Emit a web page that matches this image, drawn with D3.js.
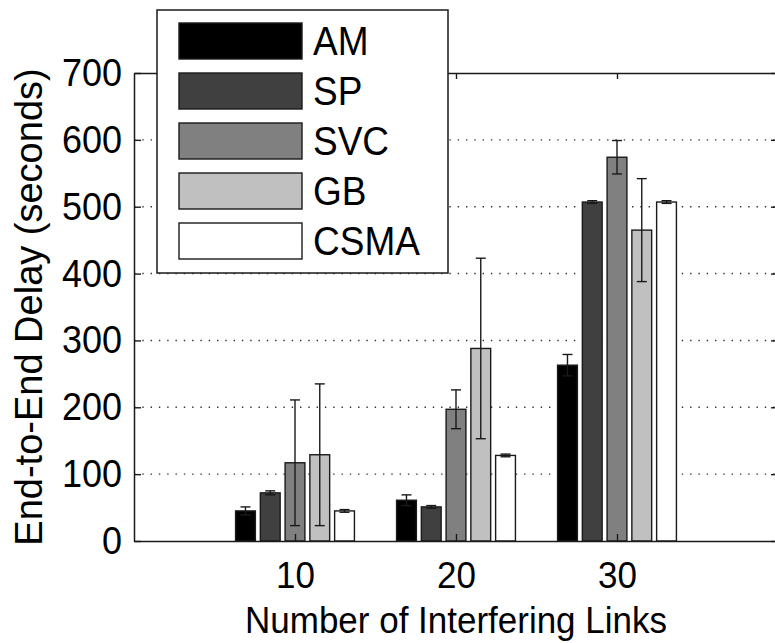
<!DOCTYPE html>
<html>
<head>
<meta charset="utf-8">
<script src="https://cdn.jsdelivr.net/npm/d3@7"></script>
<style>
  html, body { margin: 0; padding: 0; background: #fff; }
  svg { display: block; font-family: "Liberation Sans", Arial, Helvetica, sans-serif; }
</style>
</head>
<body>
<svg id="chart" width="775" height="643"></svg>
<script>
// Interfering link counts on the x axis
const categories = [10, 20, 30];
const seriesNames = ["AM", "SP", "SVC", "GB", "CSMA"];
const seriesColors = ["#000000", "#404040", "#808080", "#c0c0c0", "#ffffff"];

// Mean end-to-end delay (seconds) per scheme
const amValues   = [45, 61, 263];
const spValues   = [72, 51, 507];
const svcValues  = [117, 197, 574];
const gbValues   = [129, 288, 465];
const csmaValues = [45, 128, 507];

// Half-length of the error bars
const amErrors   = [6, 8, 16];
const spErrors   = [3, 2, 2];
const svcErrors  = [94, 29, 25];
const gbErrors   = [106, 135, 77];
const csmaErrors = [2, 2, 2];

const yTicks = [0, 100, 200, 300, 400, 500, 600, 700];
const xTicks = [10, 20, 30];

const seriesValues = [amValues, spValues, svcValues, gbValues, csmaValues];
const seriesErrors = [amErrors, spErrors, svcErrors, gbErrors, csmaErrors];

const svg = d3.select("#chart");
const plot = { left: 134, right: 778, top: 73, bottom: 541 };
const ink = "#1a1a1a";
const stretch = 1.08; // slightly tall lettering

const x = d3.scaleLinear().domain([0, 40]).range([plot.left, plot.right]);
const y = d3.scaleLinear().domain([0, 700]).range([plot.bottom, plot.top]);

// Bars inside a group span ~77% of the category spacing
const groupSpan = 7.69;
const inner = d3.scaleBand()
  .domain(seriesNames)
  .range([-groupSpan / 2, groupSpan / 2])
  .paddingInner(0.2)
  .paddingOuter(0.1);

// Dotted horizontal grid
svg.append("g")
  .selectAll("line")
  .data(yTicks.filter(t => t > 0 && t < 700))
  .join("line")
  .attr("x1", plot.left).attr("x2", plot.right)
  .attr("y1", d => y(d)).attr("y2", d => y(d))
  .attr("stroke", "#333")
  .attr("stroke-width", 1.4)
  .attr("stroke-dasharray", "1.4,6.9");

// Bars
const rows = [];
seriesNames.forEach((name, s) => {
  categories.forEach((c, i) => {
    rows.push({ name, s, c, v: seriesValues[s][i], e: seriesErrors[s][i] });
  });
});

const barW = x(inner.bandwidth()) - x(0);
const cx = d => x(d.c + inner(d.name) + inner.bandwidth() / 2);

svg.append("g")
  .selectAll("rect")
  .data(rows)
  .join("rect")
  .attr("x", d => cx(d) - barW / 2)
  .attr("width", barW)
  .attr("y", d => y(d.v))
  .attr("height", d => y(0) - y(d.v))
  .attr("fill", d => seriesColors[d.s])
  .attr("stroke", ink)
  .attr("stroke-width", 1.4);

// Error bars
const eb = svg.append("g").attr("stroke", ink).attr("stroke-width", 1.4).attr("fill", "none");
const cap = 5;
eb.selectAll("line.v").data(rows).join("line").attr("class", "v")
  .attr("x1", cx).attr("x2", cx)
  .attr("y1", d => y(d.v + d.e)).attr("y2", d => y(d.v - d.e));
eb.selectAll("line.t").data(rows).join("line").attr("class", "t")
  .attr("x1", d => cx(d) - cap).attr("x2", d => cx(d) + cap)
  .attr("y1", d => y(d.v + d.e)).attr("y2", d => y(d.v + d.e));
eb.selectAll("line.b").data(rows).join("line").attr("class", "b")
  .attr("x1", d => cx(d) - cap).attr("x2", d => cx(d) + cap)
  .attr("y1", d => y(d.v - d.e)).attr("y2", d => y(d.v - d.e));

// Axes (ticks point into the plot)
function styleAxis(g, fontSize) {
  g.select(".domain").attr("stroke", ink).attr("stroke-width", 1.5);
  g.selectAll(".tick line").attr("stroke", ink).attr("stroke-width", 1.4);
  g.selectAll(".tick text").attr("fill", "#000").attr("font-size", fontSize + "px")
    .attr("font-family", "'Liberation Sans', Arial, sans-serif")
    .attr("transform", `scale(1,${stretch})`);
}

svg.append("g")
  .attr("transform", `translate(${plot.left},0)`)
  .call(d3.axisLeft(y).tickValues(yTicks).tickSizeInner(-7).tickSizeOuter(0).tickPadding(12))
  .call(g => styleAxis(g, 36));

svg.append("g")
  .attr("transform", `translate(${plot.right},0)`)
  .call(d3.axisRight(y).tickValues(yTicks).tickSizeInner(-7).tickSizeOuter(0).tickFormat(""))
  .call(g => styleAxis(g, 36));

svg.append("g")
  .attr("transform", `translate(0,${plot.bottom})`)
  .call(d3.axisBottom(x).tickValues(xTicks).tickSizeInner(-7).tickSizeOuter(0).tickPadding(18.5))
  .call(g => styleAxis(g, 35));

svg.append("g")
  .attr("transform", `translate(0,${plot.top})`)
  .call(d3.axisTop(x).tickValues(xTicks).tickSizeInner(-6).tickSizeOuter(0).tickFormat(""))
  .call(g => styleAxis(g, 35));

// Axis titles
svg.append("text")
  .attr("transform", `translate(${(plot.left + plot.right) / 2},633) scale(1,${stretch})`)
  .attr("text-anchor", "middle")
  .attr("font-size", "35px")
  .text("Number of Interfering Links");

svg.append("text")
  .attr("transform", `translate(42,${(plot.top + plot.bottom) / 2}) rotate(-90)`)
  .attr("text-anchor", "middle")
  .attr("font-size", "38px")
  .text("End-to-End Delay (seconds)");

// Legend
const legend = svg.append("g");
legend.append("rect")
  .attr("x", 157).attr("y", 10).attr("width", 291).attr("height", 263)
  .attr("fill", "#fff").attr("stroke", ink).attr("stroke-width", 1.5);

const item = legend.selectAll("g.item")
  .data(seriesNames)
  .join("g")
  .attr("class", "item")
  .attr("transform", (d, i) => `translate(179,${23 + i * 50})`);

item.append("rect")
  .attr("width", 123).attr("height", 36)
  .attr("fill", (d, i) => seriesColors[i])
  .attr("stroke", ink).attr("stroke-width", 1.4);

item.append("text")
  .attr("transform", `translate(134,32) scale(1,${stretch})`)
  .attr("font-size", "37px")
  .attr("fill", "#000")
  .text(d => d);
</script>
</body>
</html>
